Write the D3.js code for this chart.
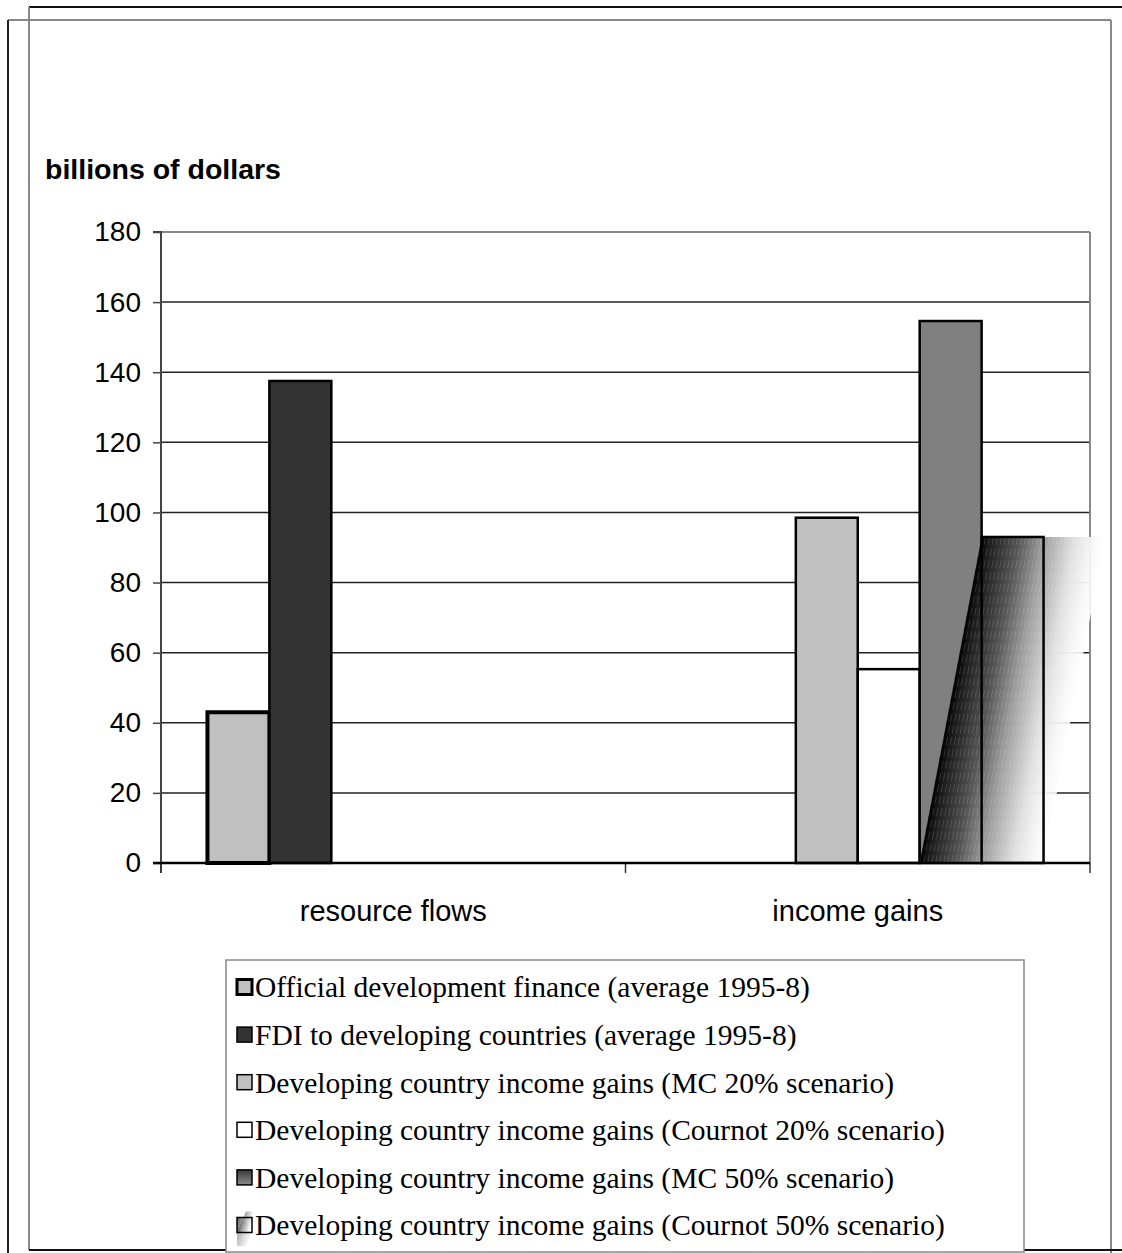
<!DOCTYPE html>
<html>
<head>
<meta charset="utf-8">
<script src="https://cdn.jsdelivr.net/npm/d3@7"></script>
<style>
  html, body { margin: 0; padding: 0; background: #fff; }
  svg { display: block; }
</style>
</head>
<body>
<script>
// Categories and series (billions of dollars)
const categories = ["resource flows", "income gains"];
const seriesNames = [
  "Official development finance (average 1995-8)",
  "FDI to developing countries (average 1995-8)",
  "Developing country income gains (MC 20% scenario)",
  "Developing country income gains (Cournot 20% scenario)",
  "Developing country income gains (MC 50% scenario)",
  "Developing country income gains (Cournot 50% scenario)"
];
const officialFinance = [43, 0];
const fdiFlows = [137.5, 0];
const mc20 = [0, 98.5];
const cournot20 = [0, 55.3];
const mc50 = [0, 154.6];
const cournot50 = [0, 93];
const yTicks = [0, 20, 40, 60, 80, 100, 120, 140, 160, 180];
const yTitle = "billions of dollars";

const seriesValues = [officialFinance, fdiFlows, mc20, cournot20, mc50, cournot50];

const W = 1122, H = 1253;
const svg = d3.select("body").append("svg").attr("width", W).attr("height", H);
const defs = svg.append("defs");

const plot = { left: 161, right: 1090, top: 232, bottom: 863 };
const sans = "Liberation Sans, Arial, sans-serif";
const serif = "Liberation Serif, 'Times New Roman', serif";

const x0 = d3.scaleBand().domain(categories).range([plot.left, plot.right]).paddingInner(0).paddingOuter(0);
const x1 = d3.scaleBand().domain(d3.range(seriesNames.length))
  .range([0, x0.bandwidth()]).paddingOuter(0.75).paddingInner(0);
const y = d3.scaleLinear().domain([0, 180]).range([plot.bottom, plot.top]);

// Page frame lines
const frame = svg.append("g").attr("fill", "none");
frame.append("line").attr("x1", 29).attr("x2", W).attr("y1", 7).attr("y2", 7).attr("stroke", "#111").attr("stroke-width", 2);
frame.append("line").attr("x1", 29).attr("x2", 29).attr("y1", 7).attr("y2", 1250).attr("stroke", "#888").attr("stroke-width", 2);
frame.append("line").attr("x1", 8).attr("x2", 1111).attr("y1", 20).attr("y2", 20).attr("stroke", "#888").attr("stroke-width", 2);
frame.append("line").attr("x1", 8).attr("x2", 8).attr("y1", 20).attr("y2", H).attr("stroke", "#222").attr("stroke-width", 2);
frame.append("line").attr("x1", 1111).attr("x2", 1111).attr("y1", 20).attr("y2", H).attr("stroke", "#888").attr("stroke-width", 2);
frame.append("line").attr("x1", 29).attr("x2", W).attr("y1", 1250).attr("y2", 1250).attr("stroke", "#111").attr("stroke-width", 2);

// Axis title
svg.append("text").attr("x", 45).attr("y", 179)
  .attr("font-family", sans).attr("font-weight", "bold")
  .attr("font-size", 28.5).attr("fill", "#000").text(yTitle);

// Gridlines
const grid = svg.append("g");
grid.selectAll("line").data(yTicks.filter(t => t > 0 && t < 180)).join("line")
  .attr("x1", plot.left).attr("x2", plot.right)
  .attr("y1", d => y(d)).attr("y2", d => y(d))
  .attr("stroke", "#222").attr("stroke-width", 1.5);

// Plot border (top and right)
svg.append("line").attr("x1", plot.left).attr("x2", plot.right).attr("y1", y(180)).attr("y2", y(180))
  .attr("stroke", "#888").attr("stroke-width", 2);
svg.append("line").attr("x1", plot.right).attr("x2", plot.right).attr("y1", y(180)).attr("y2", y(0))
  .attr("stroke", "#888").attr("stroke-width", 2);

// Y axis
const yAxis = d3.axisLeft(y).tickValues(yTicks).tickSize(8).tickPadding(12).tickFormat(d3.format("d"));
const gy = svg.append("g").attr("transform", `translate(${plot.left},0)`).call(yAxis);
gy.select(".domain").attr("stroke", "#444").attr("stroke-width", 2).attr("d", `M-8,${plot.top}H0V${plot.bottom + 10}`);
gy.selectAll(".tick line").attr("stroke", "#444").attr("stroke-width", 1.5);
gy.selectAll(".tick text").attr("font-family", sans)
  .attr("font-size", 28).attr("fill", "#000");

// X axis
const xAxis = d3.axisBottom(x0).tickSize(0).tickPadding(37);
const gx = svg.append("g").attr("transform", `translate(0,${plot.bottom})`).call(xAxis);
gx.select(".domain").remove();
gx.selectAll(".tick text").attr("font-family", sans)
  .attr("font-size", 29).attr("fill", "#000");
// category separators
const sepX = [plot.left, ...categories.map(c => x0(c) + x0.bandwidth())];
gx.selectAll("line.sep").data(sepX).join("line").attr("class", "sep")
  .attr("x1", d => d).attr("x2", d => d).attr("y1", 0).attr("y2", 10)
  .attr("stroke", "#333").attr("stroke-width", 1.5);

// Bar styles
const fills = ["#c0c0c0", "#333333", "#c0c0c0", "#ffffff", "#808080", null];
const strokeW = [4, 2.5, 2.5, 2.5, 2.5, 2.5];

const bw = x1.bandwidth();
const barsG = svg.append("g");

seriesValues.forEach((vals, si) => {
  categories.forEach((c, ci) => {
    const v = vals[ci];
    if (!v) return;
    const bx = x0(c) + x1(si);
    const by = y(v);
    const bh = y(0) - y(v);
    if (si === 5) {
      // skewed, fading gradient fill that spills one bar width either side
      const h = bh;
      const len = Math.hypot(h, bw);
      const nx = h / len, ny = bw / len;
      const dist = 2 * bw * h / len;
      const sx = bx - bw, sy = y(0);
      const grad = defs.append("linearGradient").attr("id", "skewGrad")
        .attr("gradientUnits", "userSpaceOnUse")
        .attr("x1", sx).attr("y1", sy).attr("x2", sx + dist * nx).attr("y2", sy + dist * ny);
      [[0, "#000", 1], [0.06, "#1a1a1a", 1], [0.3, "#555", 1], [0.5, "#9d9d9d", 1],
       [0.75, "#e0e0e0", 1], [0.9, "#f6f6f6", 0.95], [1, "#fff", 0.85]]
        .forEach(([o, col, op]) => grad.append("stop").attr("offset", o).attr("stop-color", col).attr("stop-opacity", op));
      const pts = [[bx - bw, y(0)], [bx, by], [bx + 2 * bw, by], [bx + bw, y(0)]];
      const clipId = "skewClip";
      defs.append("clipPath").attr("id", clipId).append("polygon").attr("points", pts.map(p => p.join(",")).join(" "));
      barsG.append("polygon").attr("points", pts.map(p => p.join(",")).join(" ")).attr("fill", "url(#skewGrad)");
      // faint streaks running along the skew direction
      const streaks = barsG.append("g").attr("clip-path", `url(#${clipId})`);
      d3.range(0, 2 * bw, 4).forEach(off => {
        streaks.append("line")
          .attr("x1", bx - bw + off).attr("y1", y(0))
          .attr("x2", bx + off).attr("y2", by)
          .attr("stroke", "#fff").attr("stroke-opacity", 0.14).attr("stroke-width", 1)
          .attr("stroke-dasharray", "8 4");
      });
      barsG.append("rect").attr("x", bx).attr("y", by).attr("width", bw).attr("height", bh)
        .attr("fill", "none").attr("stroke", "#000").attr("stroke-width", strokeW[si]);
    } else {
      barsG.append("rect").attr("x", bx).attr("y", by).attr("width", bw).attr("height", bh)
        .attr("fill", fills[si]).attr("stroke", "#000").attr("stroke-width", strokeW[si]);
    }
  });
});

// Baseline
svg.append("line").attr("x1", plot.left - 8).attr("x2", plot.right).attr("y1", y(0)).attr("y2", y(0))
  .attr("stroke", "#000").attr("stroke-width", 2.5);

// Legend
const lg = { x: 226, y: 960, w: 798, h: 292 };
svg.append("rect").attr("x", lg.x).attr("y", lg.y).attr("width", lg.w).attr("height", lg.h)
  .attr("fill", "#fff").attr("stroke", "#888").attr("stroke-width", 1.5);

const mgGrad = defs.append("linearGradient").attr("id", "legMc50").attr("x1", 0).attr("y1", 0).attr("x2", 0).attr("y2", 1);
mgGrad.append("stop").attr("offset", 0).attr("stop-color", "#3a3a3a");
mgGrad.append("stop").attr("offset", 1).attr("stop-color", "#8a8a8a");
const legSkew = defs.append("linearGradient").attr("id", "legSkew").attr("x1", 0).attr("y1", 0).attr("x2", 1).attr("y2", 0.3);
[[0, "#111"], [0.5, "#999"], [1, "#fff"]].forEach(([o, c]) => legSkew.append("stop").attr("offset", o).attr("stop-color", c));

const rowY = i => 987 + i * 47.6;
const sym = 15;
const items = svg.append("g").selectAll("g").data(seriesNames).join("g")
  .attr("transform", (d, i) => `translate(237,${rowY(i)})`);
items.each(function (d, i) {
  const g = d3.select(this);
  if (i === 5) {
    g.append("polygon").attr("points", `0,${sym / 2} ${sym * 0.6},${-sym * 0.9} ${sym},${-sym * 0.9} ${sym},${sym / 2}`)
      .attr("fill", "url(#legSkew)");
    g.append("polygon").attr("points", `0,${sym / 2} ${sym},${sym / 2} ${sym * 0.6},${sym * 1.4} 0,${sym * 1.4}`)
      .attr("fill", "url(#legSkew)").attr("opacity", 0.35);
    g.append("rect").attr("x", 0).attr("y", -sym / 2).attr("width", sym).attr("height", sym)
      .attr("fill", "url(#legSkew)").attr("fill-opacity", 0.7).attr("stroke", "#000").attr("stroke-width", 1.5);
  } else {
    const f = i === 4 ? "url(#legMc50)" : fills[i];
    g.append("rect").attr("x", 0).attr("y", -sym / 2).attr("width", sym).attr("height", sym)
      .attr("fill", f).attr("stroke", "#000").attr("stroke-width", i === 0 ? 3 : 1.5);
  }
  g.append("text").attr("x", sym + 3).attr("y", 0).attr("dy", "0.35em")
    .attr("font-family", serif)
    .attr("font-size", 29.5).attr("fill", "#000").text(d);
});
</script>
</body>
</html>
